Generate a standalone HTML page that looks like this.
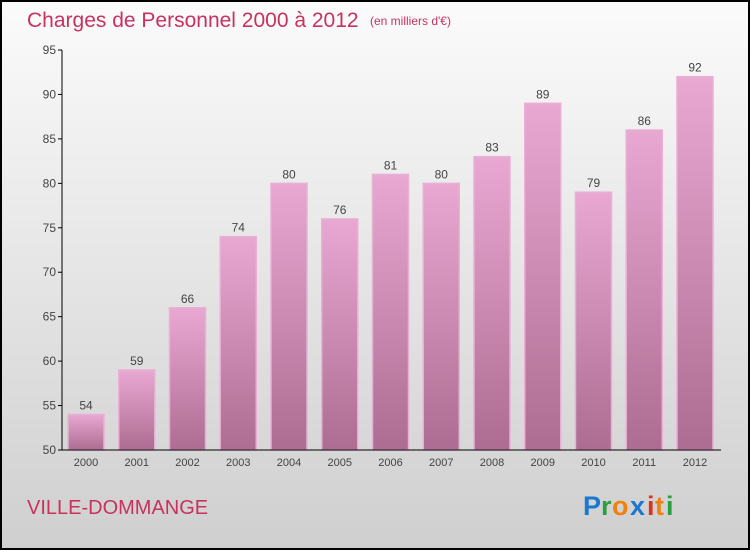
<!DOCTYPE html>
<html><head><meta charset="utf-8"><style>
body{margin:0;}
#c{width:750px;height:550px;}
</style></head><body>
<svg id="c" width="750" height="550" xmlns="http://www.w3.org/2000/svg">
<defs>
<linearGradient id="bg" x1="0" y1="0" x2="0" y2="1"><stop offset="0" stop-color="#fbfbfb"/><stop offset="1" stop-color="#cfcfcf"/></linearGradient>
<linearGradient id="bar" x1="0" y1="0" x2="0" y2="1"><stop offset="0" stop-color="#e8a8d2"/><stop offset="1" stop-color="#ad6d92"/></linearGradient>
</defs>
<rect x="1" y="1" width="748" height="548" fill="url(#bg)" stroke="#000" stroke-width="2"/>
<text x="27" y="27" font-family="Liberation Sans, sans-serif" font-size="21" fill="#c8325f">Charges de Personnel 2000 à 2012</text>
<text x="370" y="25" font-family="Liberation Sans, sans-serif" font-size="12" fill="#c8325f">(en milliers d'€)</text>
<g id="plot"></g>
<text x="27" y="514" font-family="Liberation Sans, sans-serif" font-size="20" fill="#c8325f">VILLE-DOMMANGE</text>
<g font-family="Liberation Sans, sans-serif" font-size="27" font-weight="bold">
<text x="583" y="515" fill="#1a78d0">P</text><text x="601" y="515" fill="#2aa040">r</text><text x="612" y="515" fill="#f08010">o</text><text x="630" y="515" fill="#1a78d0">x</text><text x="647" y="515" fill="#e03020">i</text><text x="655" y="515" fill="#f08010">t</text><text x="666" y="515" fill="#2aa040">i</text>
</g>
</svg>
<script>
const categories=["2000","2001","2002","2003","2004","2005","2006","2007","2008","2009","2010","2011","2012"];
const values=[54,59,66,74,80,76,81,80,83,89,79,86,92];
const yTicks=[50,55,60,65,70,75,80,85,90,95];
const NS="http://www.w3.org/2000/svg";
const g=document.getElementById('plot');
const y0=450,y1=50,vMin=50,vMax=95;
const y=v=>y0-(v-vMin)/(vMax-vMin)*(y0-y1);
const x=i=>86+i*50.75;
function el(t,a){const e=document.createElementNS(NS,t);for(const k in a)e.setAttribute(k,a[k]);g.appendChild(e);return e;}
yTicks.forEach(t=>{
 const l=el('line',{x1:58,x2:62,y1:y(t),y2:y(t),stroke:'#000'});
 
 
 const tx=el('text',{x:56,y:y(t)+4,'text-anchor':'end','font-family':'Liberation Sans, sans-serif','font-size':12,fill:'#444'});
 tx.textContent=t;
 
 
});
values.forEach((v,i)=>{
 const r=el('rect',{x:x(i)-18,y:y(v),width:36,height:y0-y(v),fill:'url(#bar)',stroke:'#e8b0d4','stroke-width':1.5});
 
 
 const t=el('text',{x:x(i),y:y(v)-5,'text-anchor':'middle','font-family':'Liberation Sans, sans-serif','font-size':12,fill:'#444'});
 t.textContent=v;
 
 
 const c=el('text',{x:x(i),y:466,'text-anchor':'middle','font-family':'Liberation Sans, sans-serif','font-size':11,fill:'#444'});
 c.textContent=categories[i];
 
 
});
const ya=el('line',{x1:62,x2:62,y1:y1,y2:y0,stroke:'#000'});


const xa=el('line',{x1:62,x2:721,y1:y0,y2:y0,stroke:'#000'});


</script>
</body></html>
